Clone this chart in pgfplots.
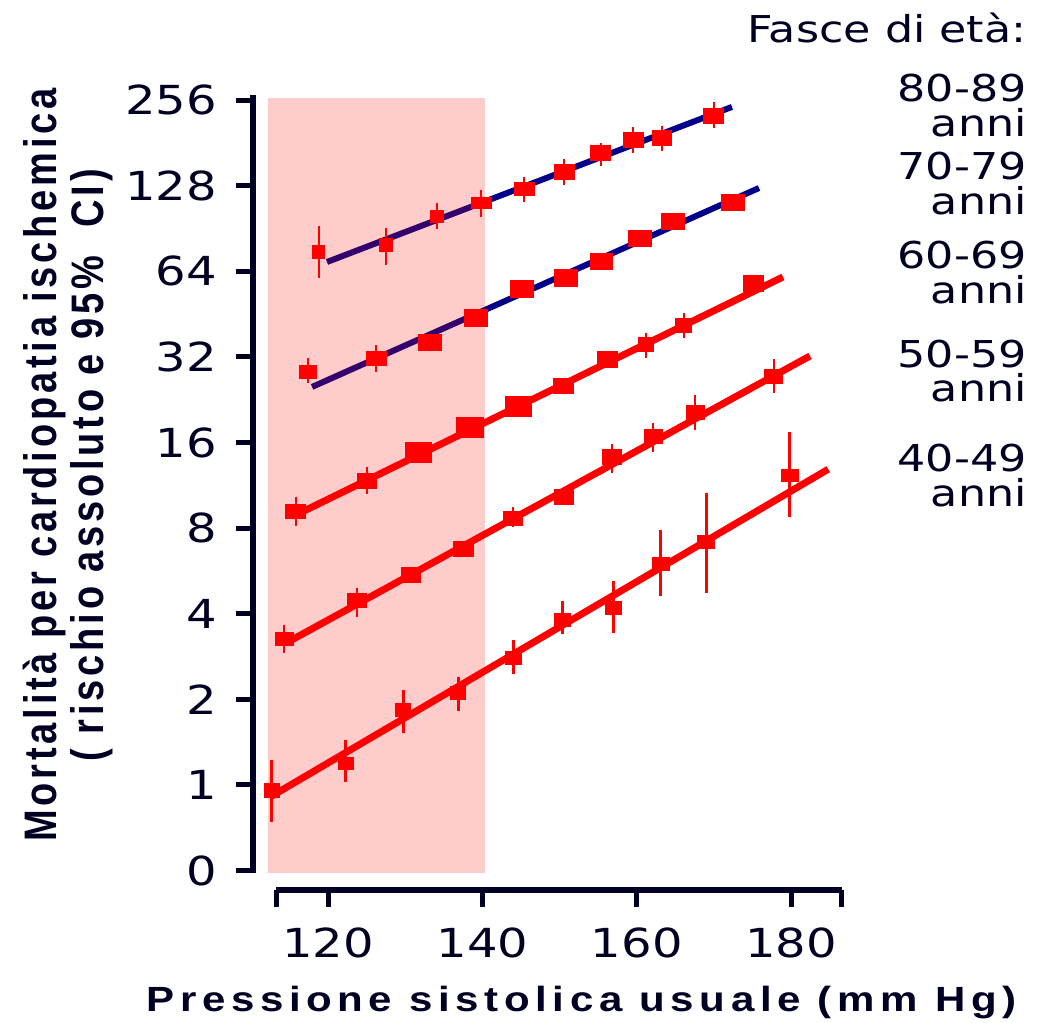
\documentclass[border=0pt]{standalone}
\usepackage{fontspec}
\usepackage{graphicx}
\usepackage{pgfplots}
\usepackage{pgfplotstable}
\pgfplotsset{compat=1.18}
\definecolor{ink}{HTML}{000022}
\definecolor{navyline}{HTML}{000088}
\newfontfamily\tickfont[FakeStretch=1.2]{DejaVu Sans}
\newfontfamily\labfont[FakeStretch=1.2,LetterSpace=16]{Liberation Sans}
\newfontfamily\ylabfont[LetterSpace=10]{Liberation Sans}

% x  y  lo  hi  w  h   (w,h = box size in pt)
\pgfplotstableread{
x y lo hi w h
112.7 0.955 0.741 1.224 7.5 7
122.3 1.193 1.027 1.440 7.5 6
129.75 1.835 1.527 2.158 7.5 6.5
136.9 2.101 1.820 2.398 7.5 6.5
144.0 2.789 2.457 3.235 8 6.5
150.4 3.805 3.396 4.447 8 6.5
157.0 4.202 3.425 5.216 8 6.5
163.1 5.988 4.630 7.885 8.5 6.5
169.0 7.155 4.734 10.64 8.5 6.5
179.8 12.28 8.736 17.47 8.5 6
}\tabA
\pgfplotstableread{
x y lo hi w h
114.3 3.262 2.912 3.653 9 6.5
123.76 4.438 3.899 4.928 9.5 7
130.75 5.476 5.476 5.476 9.5 7.5
137.49 6.760 6.760 6.760 10 7.5
143.96 8.616 8.078 9.501 9.5 7
150.57 10.30 10.30 10.30 9.5 7.5
156.79 14.24 12.51 15.82 9.5 7.5
162.1 16.74 14.83 18.75 9 7
167.54 20.34 17.72 23.52 9 7
177.77 27.21 23.90 31.49 9 7
}\tabB
\pgfplotstableread{
x y lo hi w h
115.85 9.12 8.145 10.30 10 7
125.05 11.72 10.56 13.13 9.5 7.5
131.66 14.71 14.71 14.71 13 10
138.39 18.01 18.01 18.01 13.5 10
144.61 21.35 21.35 21.35 13 10
150.44 25.30 25.30 25.30 10 7.5
156.14 31.23 31.23 31.23 10 8
161.19 35.26 31.73 38.85 7.5 7
166.11 41.13 37.32 45.70 8 7
175.18 57.80 57.80 57.80 10 8
}\tabC
\pgfplotstableread{
x y lo hi w h
117.41 28.34 25.92 31.73 8.5 6.5
126.22 31.73 28.34 35.26 10 7
133.21 35.85 35.85 35.85 11.5 8
139.17 43.89 43.89 43.89 11.5 8.5
145.13 55.48 55.48 55.48 11.5 8.5
150.83 60.68 60.68 60.68 11.5 8.5
155.49 69.60 69.60 69.60 11 8
160.41 83.22 83.22 83.22 11.5 8
164.69 95.47 95.47 95.47 11.5 8
172.46 111.35 111.35 111.35 11.5 8
}\tabD
\pgfplotstableread{
x y lo hi w h
118.83 74.90 60.68 92.42 6 6.5
127.51 79.23 67.42 90.94 6.5 6.5
134.12 100.2 90.20 111.35 6.5 6
139.82 111.35 99.46 123.7 10 5.5
145.39 124.8 112.3 137.5 10 6.5
150.57 143.1 128.8 159.0 10 7.5
155.36 166.9 150.2 181.0 10 7.5
159.51 185.5 166.9 206.1 10 7.5
163.26 188.4 169.7 207.8 9.5 7.5
170.0 225.2 204.4 252.3 10 7.5
}\tabE

\pgfplotsset{
  boxes/.style={
    red, only marks, scatter, mark=square*, mark size=0.5pt,
    mark options={draw=red, fill=red, line width=0pt},
    visualization depends on={\thisrow{w} \as \mw},
    visualization depends on={\thisrow{h} \as \mh},
    scatter/@pre marker code/.code={\pgfscope\pgftransformxscale{\mw}\pgftransformyscale{\mh}},
    scatter/@post marker code/.code={\endpgfscope},
    error bars/.cd, y dir=both, y explicit, error mark=none,
    error bar style={draw=red, line width=1.3pt},
  },
}

\begin{document}
\begin{tikzpicture}
\path[use as bounding box] (0pt,0pt) rectangle (525pt,511.5pt);
\begin{axis}[
  at={(126.5pt,66.5pt)}, anchor=south west, scale only axis,
  width=298.5pt, height=397.5pt,
  xmin=110.28, xmax=187.62,
  ymode=log, log basis y=2, ymin=0.427, ymax=267,
  clip=false,
  axis x line*=bottom, axis y line*=left,
  axis line style={draw=none},
  tick align=outside, major tick length=8.5pt,
  tick style={ink, line width=2.5pt},
  xtick={113.26,120,140,160,180,186.58},
  xticklabels={,120,140,160,180,},
  ytick={0.5,1,2,4,8,16,32,64,128,256},
  yticklabels={0,1,2,4,8,16,32,64,128,256},
  yminorticks=false, xminorticks=false,
  ticklabel style={font=\fontsize{20}{24}\tickfont, text=ink},
  xticklabel style={yshift=-7pt},
  yticklabel style={xshift=-6pt},
  /pgf/number format/assume math mode=true,
]
% regression lines of the two oldest groups (under the shaded band)
\addplot[navyline, line width=3pt] coordinates {(117.93,25.11) (175.83,125.7)};
\addplot[navyline, line width=3pt] coordinates {(119.87,69.07) (172.33,242.4)};
% shaded band
\fill[red, opacity=0.2] (axis cs:112.23,0.49) rectangle (axis cs:140.34,261);
% axes
\draw[ink, line width=3pt] (axis cs:110.28,0.49) -- (axis cs:110.28,267);
\draw[ink, line width=3pt] (axis cs:113.26,0.427) -- (axis cs:186.58,0.427);
% red regression lines
\addplot[red, line width=3.5pt] coordinates {(112.5,0.907) (184.8,12.89)};
\addplot[red, line width=3.5pt] coordinates {(114.82,3.183) (182.44,32.26)};
\addplot[red, line width=3.5pt] coordinates {(116.37,9.05) (178.94,61.17)};
% points with 95% CI
\addplot[boxes] table[x=x, y=y, y error plus expr=\thisrow{hi}-\thisrow{y}, y error minus expr=\thisrow{y}-\thisrow{lo}] {\tabA};
\addplot[boxes] table[x=x, y=y, y error plus expr=\thisrow{hi}-\thisrow{y}, y error minus expr=\thisrow{y}-\thisrow{lo}] {\tabB};
\addplot[boxes] table[x=x, y=y, y error plus expr=\thisrow{hi}-\thisrow{y}, y error minus expr=\thisrow{y}-\thisrow{lo}] {\tabC};
\addplot[boxes] table[x=x, y=y, y error plus expr=\thisrow{hi}-\thisrow{y}, y error minus expr=\thisrow{y}-\thisrow{lo}] {\tabD};
\addplot[boxes] table[x=x, y=y, y error plus expr=\thisrow{hi}-\thisrow{y}, y error minus expr=\thisrow{y}-\thisrow{lo}] {\tabE};
\end{axis}

% legend-like labels on the right
\begin{scope}[every node/.style={anchor=base east, inner sep=0pt, text=ink, font=\fontsize{18.5}{22}\tickfont}]
\node at (513.5pt,490.15pt) {Fasce di età:};
\node at (513.5pt,460.65pt) {80-89};
\node at (513.5pt,443.15pt) {anni};
\node at (513.5pt,421.5pt) {70-79};
\node at (513.5pt,404pt) {anni};
\node at (513.5pt,377pt) {60-69};
\node at (513.5pt,359.5pt) {anni};
\node at (513.5pt,327.5pt) {50-59};
\node at (513.5pt,310.65pt) {anni};
\node at (513.5pt,275.65pt) {40-49};
\node at (513.5pt,258.15pt) {anni};
\end{scope}

% axis titles
\node[anchor=base, inner sep=0pt, text=ink] at (290.75pt,5.5pt)
  {\fontsize{17.5}{21}\labfont\bfseries Pressione sistolica usuale (mm Hg)};
\node[rotate=90, inner sep=0pt, text=ink] at (35pt,279pt)
  {\scalebox{1}[1.2]{\fontsize{19}{19.6}\ylabfont\bfseries\begin{tabular}{@{}c@{}}Mortalità per cardiopatia ischemica\\( rischio assoluto e 95\%\ \ CI)\end{tabular}}};
\end{tikzpicture}
\end{document}
